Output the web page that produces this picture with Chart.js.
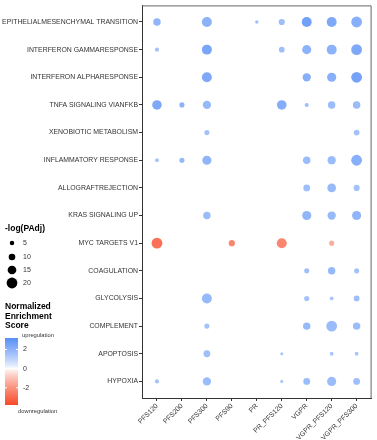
<!DOCTYPE html>
<html>
<head>
<meta charset="utf-8">
<script src="https://cdn.jsdelivr.net/npm/chart.js@4/dist/chart.umd.min.js"></script>
<style>
  html, body { margin: 0; padding: 0; background: #fff; }
  canvas { display: block; }
</style>
</head>
<body>
<canvas id="dotplot" width="377" height="440"></canvas>
<script>
// comparison groups (x) and hallmark pathways (y, top to bottom)
const groups = ['PFS120', 'PFS200', 'PFS300', 'PFS90', 'PR', 'PR_PFS120', 'VGPR', 'VGPR_PFS120', 'VGPR_PFS300'];
const pathways = [
    'EPITHELIALMESENCHYMAL TRANSITION',
    'INTERFERON GAMMARESPONSE',
    'INTERFERON ALPHARESPONSE',
    'TNFA SIGNALING VIANFKB',
    'XENOBIOTIC METABOLISM',
    'INFLAMMATORY RESPONSE',
    'ALLOGRAFTREJECTION',
    'KRAS SIGNALING UP',
    'MYC TARGETS V1',
    'COAGULATION',
    'GLYCOLYSIS',
    'COMPLEMENT',
    'APOPTOSIS',
    'HYPOXIA'
];

// normalized enrichment score, one row per pathway (null = not significant)
const nesScores = [
    [1.9, null, 2.0, null, 1.6, 1.6, 2.6, 2.3, 2.1],
    [1.5, null, 2.4, null, null, 1.6, 2.0, 2.0, 2.3],
    [null, null, 2.3, null, null, null, 2.1, 2.1, 2.5],
    [2.3, 2.0, 1.8, null, null, 2.2, 1.6, 1.7, 1.7],
    [null, null, 1.5, null, null, null, null, null, 1.5],
    [1.5, 1.8, 1.9, null, null, null, 1.7, 1.7, 2.1],
    [null, null, null, null, null, null, 1.6, 1.8, 1.5],
    [null, null, 1.7, null, null, null, 1.9, 1.8, 1.9],
    [-2.8, null, null, -2.3, null, -2.3, null, -1.4, null],
    [null, null, null, null, null, null, 1.6, 1.8, 1.5],
    [null, null, 1.8, null, null, null, 1.5, 1.4, 1.6],
    [null, null, 1.5, null, null, null, 1.8, 1.7, 1.7],
    [null, null, 1.6, null, null, 1.4, null, 1.4, 1.4],
    [1.5, null, 1.7, null, null, 1.4, 1.7, 1.7, 1.6]
];

// -log(PAdj), same layout
const logPAdj = [
    [12, null, 18, null, 2.5, 9, 18, 18, 20],
    [4, null, 18, null, null, 8, 16, 18, 20],
    [null, null, 18, null, null, null, 14, 16, 20],
    [17, 6.5, 14, null, null, 17, 4, 12, 12],
    [null, null, 6.5, null, null, null, null, null, 8],
    [3.3, 6.5, 16, null, null, null, 12, 14, 20],
    [null, null, null, null, null, null, 10.5, 15, 9],
    [null, null, 12, null, null, null, 16, 14, 16],
    [20, null, null, 9, null, 18, null, 6.5, null],
    [null, null, null, null, null, null, 6.5, 12, 6.5],
    [null, null, 18, null, null, null, 6.5, 3.3, 8],
    [null, null, 6.5, null, null, null, 12, 20, 12],
    [null, null, 10.5, null, null, 1.7, null, 3.3, 3.3],
    [4, null, 14, null, null, 1.7, 10.5, 16, 10.5]
];

const sizeBreaks = [5, 10, 15, 20];
const nesTicks = [2, 0, -2];
const nesMin = -3.8;
const nesMax = 3.2;

const HIGH = [63, 127, 245];
const LOW = [247, 74, 40];
const FONT = '"Liberation Sans", Arial, sans-serif';

function sizeToRadius(v) {
    return 1.2 + 0.21 * v;
}

function nesColor(v) {
    const lim = Math.max(Math.abs(nesMin), Math.abs(nesMax));
    const t = Math.pow(Math.min(Math.abs(v) / lim, 1), 0.8);
    const end = v >= 0 ? HIGH : LOW;
    const c = end.map(e => Math.round(255 + (e - 255) * t));
    return 'rgb(' + c.join(',') + ')';
}

const points = [];
pathways.forEach((p, yi) => {
    groups.forEach((g, xi) => {
        const nes = nesScores[yi][xi];
        if (nes === null) return;
        points.push({ x: xi, y: yi, r: sizeToRadius(logPAdj[yi][xi]), nes: nes });
    });
});

const legendPlugin = {
    id: 'sideLegends',
    afterDraw(chart) {
        const ctx = chart.ctx;
        const area = chart.chartArea;
        ctx.save();
        // panel border (top / right)
        ctx.strokeStyle = '#666';
        ctx.lineWidth = 1;
        ctx.beginPath();
        ctx.moveTo(area.left, area.top + 0.5);
        ctx.lineTo(area.right - 0.5, area.top + 0.5);
        ctx.lineTo(area.right - 0.5, area.bottom);
        ctx.stroke();

        // size legend
        ctx.fillStyle = '#000';
        ctx.font = 'bold 8.5px ' + FONT;
        ctx.textBaseline = 'middle';
        ctx.textAlign = 'left';
        ctx.fillText('-log(PAdj)', 5, 229);
        const ys = [243, 257, 270, 283];
        ctx.font = '7px ' + FONT;
        sizeBreaks.forEach((b, i) => {
            ctx.fillStyle = '#000';
            ctx.beginPath();
            ctx.arc(12, ys[i], sizeToRadius(b), 0, Math.PI * 2);
            ctx.fill();
            ctx.fillStyle = '#333';
            ctx.fillText(String(b), 23, ys[i]);
        });

        // colour bar legend
        ctx.fillStyle = '#000';
        ctx.font = 'bold 8.5px ' + FONT;
        ctx.fillText('Normalized', 5, 307);
        ctx.fillText('Enrichment', 5, 316.5);
        ctx.fillText('Score', 5, 326);
        ctx.fillStyle = '#333';
        ctx.font = '5.8px ' + FONT;
        ctx.fillText('upregulation', 22, 335);
        ctx.fillText('downregulation', 18, 411);

        const top = 338, bottom = 405, x0 = 5, w = 13;
        for (let y = top; y < bottom; y++) {
            const v = nesMax - (y + 0.5 - top) / (bottom - top) * (nesMax - nesMin);
            ctx.fillStyle = nesColor(v);
            ctx.fillRect(x0, y, w, 1);
        }
        ctx.fillStyle = '#333';
        ctx.font = '7px ' + FONT;
        nesTicks.forEach(t => {
            const y = top + (nesMax - t) / (nesMax - nesMin) * (bottom - top);
            ctx.strokeStyle = '#fff';
            ctx.beginPath();
            ctx.moveTo(x0, y); ctx.lineTo(x0 + 2, y);
            ctx.moveTo(x0 + w - 2, y); ctx.lineTo(x0 + w, y);
            ctx.stroke();
            ctx.fillText(String(t), 23, y);
        });
        ctx.restore();
    }
};

new Chart(document.getElementById('dotplot'), {
    type: 'bubble',
    data: {
        datasets: [{
            data: points,
            backgroundColor: c => nesColor(c.raw.nes),
            borderWidth: 0,
            hoverBorderWidth: 0
        }]
    },
    options: {
        responsive: false,
        animation: false,
        events: [],
        layout: { padding: { top: 2, right: 3, left: 0, bottom: 0 } },
        plugins: { legend: { display: false }, tooltip: { enabled: false } },
        scales: {
            x: {
                type: 'linear',
                min: -0.6,
                max: groups.length - 0.4,
                afterBuildTicks: s => { s.ticks = groups.map((_, i) => ({ value: i })); },
                afterFit: s => { s.height = 42; },
                grid: { drawOnChartArea: false, drawTicks: true, tickLength: 3, color: '#333' },
                border: { display: true, color: '#333', width: 1 },
                ticks: {
                    autoSkip: false,
                    minRotation: 45,
                    maxRotation: 45,
                    padding: 1,
                    color: '#333',
                    font: { family: FONT, size: 6.9 },
                    callback: v => groups[v]
                }
            },
            y: {
                type: 'linear',
                reverse: true,
                min: -0.6,
                max: pathways.length - 0.4,
                afterBuildTicks: s => { s.ticks = pathways.map((_, i) => ({ value: i })); },
                afterFit: s => { s.width = 142; },
                grid: { drawOnChartArea: false, drawTicks: true, tickLength: 3, color: '#333' },
                border: { display: true, color: '#333', width: 1 },
                ticks: {
                    autoSkip: false,
                    padding: 1,
                    color: '#333',
                    font: { family: FONT, size: 6.9 },
                    callback: v => pathways[v]
                }
            }
        }
    },
    plugins: [legendPlugin]
});
</script>
</body>
</html>
